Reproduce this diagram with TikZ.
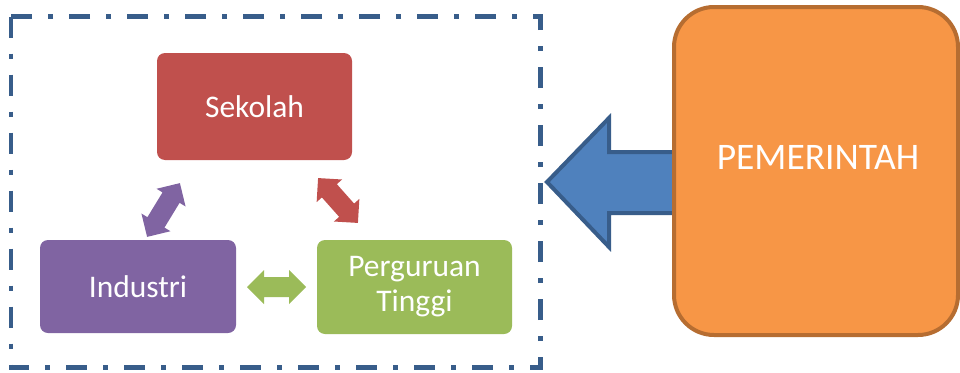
\documentclass[tikz,border=0pt]{standalone}
\usepackage{fontspec}
\setmainfont{Carlito}
\definecolor{frameblue}{HTML}{385D8A}
\definecolor{arrowblue}{HTML}{4F81BD}
\definecolor{sekred}{HTML}{C0504D}
\definecolor{indpurple}{HTML}{8064A2}
\definecolor{ptgreen}{HTML}{9BBB59}
\definecolor{govorange}{HTML}{F79646}
\definecolor{govborder}{HTML}{B66D31}
\tikzset{
  unitbox/.style={rounded corners=8pt, text=white, align=center,
    font=\fontsize{31.5}{35}\selectfont, inner sep=0pt},
}
% double-headed block arrow: centre x, centre y, angle, length, colour
\newcommand{\twowayarrow}[5]{%
  \begin{scope}[shift={(#1,#2)}, rotate=#3]
    \fill[#5] (-#4/2,0) -- (-#4/2+17,17) -- (-#4/2+17,10) -- (#4/2-17,10)
      -- (#4/2-17,17) -- (#4/2,0) -- (#4/2-17,-17) -- (#4/2-17,-10)
      -- (-#4/2+17,-10) -- (-#4/2+17,-17) -- cycle;
  \end{scope}}
\begin{document}
\begin{tikzpicture}[x=1pt,y=-1pt]
  \useasboundingbox (0,0) rectangle (960,372);

  % dash-dot frame around the three partners
  \draw[frameblue, line width=4.5pt,
        dash pattern=on 21pt off 16pt on 5pt off 16pt]
    (11,16.5) rectangle (540.5,367.5);

  % partner boxes
  \node[unitbox, fill=sekred, minimum width=195pt, minimum height=107pt]
    (sekolah) at (254.5,106.5) {Sekolah};
  \node[unitbox, fill=indpurple, minimum width=196pt, minimum height=93pt]
    (industri) at (138,286.5) {Industri};
  \node[unitbox, fill=ptgreen, minimum width=195pt, minimum height=94pt]
    (pt) at (414.5,287) {Perguruan\\Tinggi};

  % links between the partners
  \twowayarrow{163.5}{210}{58.6}{63}{indpurple}
  \twowayarrow{338}{200.5}{-48.4}{60}{sekred}
  \twowayarrow{276.5}{287}{0}{59}{ptgreen}

  % block arrow from the government into the frame
  \draw[frameblue, fill=arrowblue, line width=4pt, miter limit=10]
    (547,182) -- (609,118) -- (609,152) -- (680,152) -- (680,213)
    -- (609,213) -- (609,247) -- cycle;

  % government box and its label
  \node[draw=govborder, fill=govorange, line width=4pt, rounded corners=40pt,
        minimum width=284pt, minimum height=328pt]
    (gov) at (816,171) {};
  \node[text=white, inner sep=0pt, font=\fontsize{37.5}{40}\selectfont]
    (govlabel) at (818,157) {PEMERINTAH};
\end{tikzpicture}
\end{document}
